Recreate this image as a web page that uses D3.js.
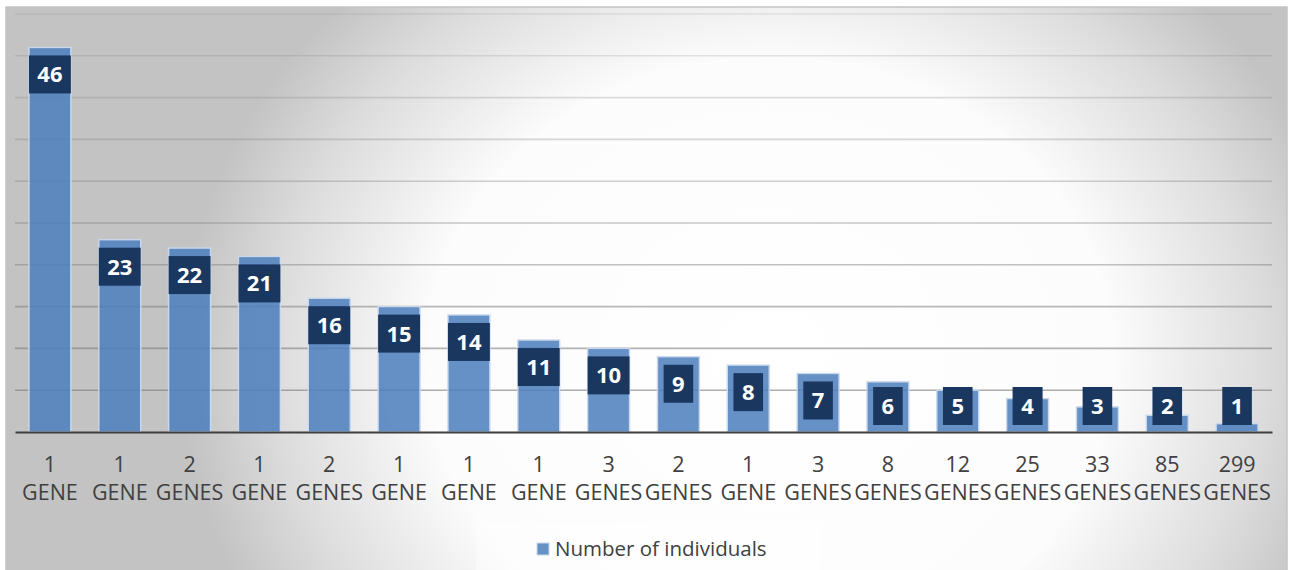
<!DOCTYPE html>
<html>
<head>
<meta charset="utf-8">
<script src="https://cdn.jsdelivr.net/npm/d3@7"></script>
<style>
  html, body { margin: 0; padding: 0; background: #ffffff; }
  svg { display: block; }
  text { font-family: "Open Sans", "Liberation Sans", sans-serif; }
</style>
</head>
<body>
<svg id="chart" width="1293" height="570"></svg>
<script>
// Number of individuals per group, with the number of genes in each group
const categories = ["1 GENE", "1 GENE", "2 GENES", "1 GENE", "2 GENES", "1 GENE",
  "1 GENE", "1 GENE", "3 GENES", "2 GENES", "1 GENE", "3 GENES", "8 GENES",
  "12 GENES", "25 GENES", "33 GENES", "85 GENES", "299 GENES"];
const individuals = [46, 23, 22, 21, 16, 15, 14, 11, 10, 9, 8, 7, 6, 5, 4, 3, 2, 1];
const gridValues = [5, 10, 15, 20, 25, 30, 35, 40, 45, 50];
const seriesName = "Number of individuals";

const frame = { left: 6, top: 7, right: 1287, bottom: 570 };
const plot = { left: 15, right: 1272, top: 14, bottom: 432 };

const svg = d3.select("#chart");
const defs = svg.append("defs");

// soft radial background of the chart area
const bg = defs.append("radialGradient")
  .attr("id", "bgGrad")
  .attr("gradientUnits", "userSpaceOnUse")
  .attr("cx", 0).attr("cy", 0).attr("r", 1)
  .attr("gradientTransform", "translate(770,360) scale(590,520)");
[[0, "#ffffff"], [0.58, "#fcfcfc"], [0.84, "#dcdcdc"], [1, "#c3c3c3"]]
  .forEach(([o, c]) => bg.append("stop").attr("offset", o).attr("stop-color", c));

svg.append("rect")
  .attr("x", frame.left).attr("y", frame.top)
  .attr("width", frame.right - frame.left).attr("height", frame.bottom - frame.top + 2)
  .attr("fill", "url(#bgGrad)")
  .attr("stroke", "#c4c4c4").attr("stroke-width", 1.5);

const x = d3.scaleBand()
  .domain(d3.range(categories.length))
  .range([plot.left, plot.right])
  .paddingInner(0.4)
  .paddingOuter(0.2);

const y = d3.scaleLinear().domain([0, 50]).range([plot.bottom, plot.top]);

// gridlines, fading toward the top
const gridOpacity = d3.scaleLinear().domain([5, 50]).range([0.62, 0.14]);
svg.append("g").selectAll("line")
  .data(gridValues)
  .join("line")
  .attr("x1", plot.left).attr("x2", plot.right)
  .attr("y1", d => y(d)).attr("y2", d => y(d))
  .attr("stroke", "#7a7a7a")
  .attr("stroke-opacity", d => gridOpacity(d))
  .attr("stroke-width", 1.6);

// bars
svg.append("g").selectAll("rect")
  .data(individuals)
  .join("rect")
  .attr("x", (d, i) => x(i))
  .attr("width", x.bandwidth())
  .attr("y", d => y(d))
  .attr("height", d => y(0) - y(d))
  .attr("fill", "#4d7fbd")
  .attr("fill-opacity", 0.86)
  .attr("stroke", "#c9d8ec")
  .attr("stroke-width", 1.4);

// category axis
const xAxis = svg.append("g")
  .attr("transform", `translate(0,${plot.bottom})`)
  .call(d3.axisBottom(x).tickSize(0).tickFormat(""));
xAxis.select(".domain").attr("stroke", "#3f3f3f").attr("stroke-width", 2.2);

const tickText = xAxis.selectAll(".tick").append("text")
  .attr("fill", "#404040")
  .attr("text-anchor", "middle")
  .style("font-size", "21.5px");
tickText.each(function (d) {
  const parts = categories[d].split(" ");
  const t = d3.select(this);
  t.append("tspan").attr("x", 0).attr("y", 40).text(parts[0]);
  t.append("tspan").attr("x", 0).attr("y", 67.5).text(parts[1]);
});

// value labels in dark boxes near the top of each bar
const labelH = 38;
const labelTop = d => Math.min(y(d) + 8, plot.bottom - 7 - labelH);
const labels = svg.append("g").selectAll("g")
  .data(individuals)
  .join("g")
  .attr("transform", (d, i) => `translate(${x(i) + x.bandwidth() / 2},${labelTop(d)})`);
labels.append("text")
  .attr("class", "val")
  .attr("text-anchor", "middle")
  .attr("y", labelH / 2 + 8)
  .attr("fill", "#ffffff")
  .style("font-size", "22px")
  .style("font-weight", "700")
  .text(d => d);
labels.each(function () {
  const g = d3.select(this);
  const bb = g.select("text").node().getBBox();
  const w = Math.min(bb.width + 17, x.bandwidth());
  g.insert("rect", "text")
    .attr("x", -w / 2).attr("y", 0)
    .attr("width", w).attr("height", labelH)
    .attr("fill", "#1a3760");
});

// legend
const legend = svg.append("g");
legend.append("rect")
  .attr("x", 476).attr("y", 523).attr("width", 344).attr("height", 50)
  .attr("fill", "#ffffff").attr("fill-opacity", 0.4);
legend.append("rect")
  .attr("x", 537).attr("y", 543).attr("width", 12).attr("height", 12)
  .attr("fill", "#6591c6").attr("stroke", "#c9d8ec").attr("stroke-width", 1);
legend.append("text")
  .attr("x", 555).attr("y", 556)
  .attr("fill", "#404040")
  .style("font-size", "20.5px")
  .text(seriesName);
</script>
</body>
</html>
